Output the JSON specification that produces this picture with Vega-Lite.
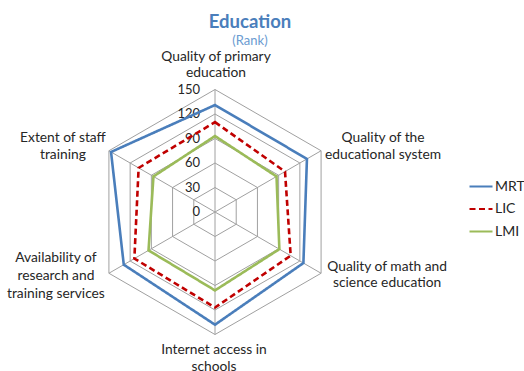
{
  "$schema": "https://vega.github.io/schema/vega-lite/v6.json",
  "width": 245,
  "height": 245,
  "autosize": {"type": "none"},
  "padding": {"left": 92.5, "top": 89.5, "right": 186.5, "bottom": 36.5},
  "background": "white",
  "config": {"view": {"stroke": null}, "font": "Lato"},
  "title": {
    "text": "Education",
    "subtitle": "(Rank)",
    "anchor": "middle",
    "frame": "group",
    "dx": 35,
    "offset": 2,
    "fontSize": 18.5,
    "fontWeight": "bold",
    "color": "#4a7ebb",
    "subtitleFontSize": 13,
    "subtitleColor": "#6b9bd1",
    "subtitlePadding": 3
  },
  "datasets": {
    "series": [
      {"series": "MRT", "k": 0, "axis": "Quality of primary education", "value": 131},
      {"series": "MRT", "k": 1, "axis": "Quality of the educational system", "value": 130},
      {"series": "MRT", "k": 2, "axis": "Quality of math and science education", "value": 125},
      {"series": "MRT", "k": 3, "axis": "Internet access in schools", "value": 138},
      {"series": "MRT", "k": 4, "axis": "Availability of research and training services", "value": 129},
      {"series": "MRT", "k": 5, "axis": "Extent of staff training", "value": 147},
      {"series": "LIC", "k": 0, "axis": "Quality of primary education", "value": 110},
      {"series": "LIC", "k": 1, "axis": "Quality of the educational system", "value": 99},
      {"series": "LIC", "k": 2, "axis": "Quality of math and science education", "value": 107},
      {"series": "LIC", "k": 3, "axis": "Internet access in schools", "value": 117},
      {"series": "LIC", "k": 4, "axis": "Availability of research and training services", "value": 114},
      {"series": "LIC", "k": 5, "axis": "Extent of staff training", "value": 108},
      {"series": "LMI", "k": 0, "axis": "Quality of primary education", "value": 93},
      {"series": "LMI", "k": 1, "axis": "Quality of the educational system", "value": 87},
      {"series": "LMI", "k": 2, "axis": "Quality of math and science education", "value": 91},
      {"series": "LMI", "k": 3, "axis": "Internet access in schools", "value": 96},
      {"series": "LMI", "k": 4, "axis": "Availability of research and training services", "value": 94},
      {"series": "LMI", "k": 5, "axis": "Extent of staff training", "value": 87}
    ],
    "rings": [
      {"level": 30, "k": 0}, {"level": 30, "k": 1}, {"level": 30, "k": 2}, {"level": 30, "k": 3}, {"level": 30, "k": 4}, {"level": 30, "k": 5},
      {"level": 60, "k": 0}, {"level": 60, "k": 1}, {"level": 60, "k": 2}, {"level": 60, "k": 3}, {"level": 60, "k": 4}, {"level": 60, "k": 5},
      {"level": 90, "k": 0}, {"level": 90, "k": 1}, {"level": 90, "k": 2}, {"level": 90, "k": 3}, {"level": 90, "k": 4}, {"level": 90, "k": 5},
      {"level": 120, "k": 0}, {"level": 120, "k": 1}, {"level": 120, "k": 2}, {"level": 120, "k": 3}, {"level": 120, "k": 4}, {"level": 120, "k": 5},
      {"level": 150, "k": 0}, {"level": 150, "k": 1}, {"level": 150, "k": 2}, {"level": 150, "k": 3}, {"level": 150, "k": 4}, {"level": 150, "k": 5}
    ],
    "spokes": [
      {"k": 0, "level": 0}, {"k": 0, "level": 150},
      {"k": 1, "level": 0}, {"k": 1, "level": 150},
      {"k": 2, "level": 0}, {"k": 2, "level": 150},
      {"k": 3, "level": 0}, {"k": 3, "level": 150},
      {"k": 4, "level": 0}, {"k": 4, "level": 150},
      {"k": 5, "level": 0}, {"k": 5, "level": 150}
    ],
    "ticks": [
      {"k": 0, "level": 0}, {"k": 0, "level": 30}, {"k": 0, "level": 60}, {"k": 0, "level": 90}, {"k": 0, "level": 120}, {"k": 0, "level": 150}
    ],
    "labels": [
      {"k": 0, "level": 150, "label": "Quality of primary|education"},
      {"k": 1, "level": 150, "label": "Quality of the|educational system"},
      {"k": 2, "level": 150, "label": "Quality of math and|science education"},
      {"k": 3, "level": 150, "label": "Internet access in|schools"},
      {"k": 4, "level": 150, "label": "Availability of|research and|training services"},
      {"k": 5, "level": 150, "label": "Extent of staff|training"}
    ]
  },
  "layer": [
    {
      "data": {"name": "rings"},
      "transform": [
        {"calculate": "datum.level * sin(datum.k * PI / 3)", "as": "px"},
        {"calculate": "datum.level * cos(datum.k * PI / 3)", "as": "py"}
      ],
      "mark": {"type": "line", "interpolate": "linear-closed", "color": "#a0a0a0", "strokeWidth": 1},
      "encoding": {
        "x": {"field": "px", "type": "quantitative", "scale": {"domain": [-150, 150], "nice": false, "zero": false}, "axis": null},
        "y": {"field": "py", "type": "quantitative", "scale": {"domain": [-150, 150], "nice": false, "zero": false}, "axis": null},
        "detail": {"field": "level", "type": "nominal"},
        "order": {"field": "k", "type": "quantitative"}
      }
    },
    {
      "data": {"name": "spokes"},
      "transform": [
        {"calculate": "datum.level * sin(datum.k * PI / 3)", "as": "px"},
        {"calculate": "datum.level * cos(datum.k * PI / 3)", "as": "py"}
      ],
      "mark": {"type": "line", "color": "#a0a0a0", "strokeWidth": 1},
      "encoding": {
        "x": {"field": "px", "type": "quantitative"},
        "y": {"field": "py", "type": "quantitative"},
        "detail": {"field": "k", "type": "nominal"},
        "order": {"field": "level", "type": "quantitative"}
      }
    },
    {
      "data": {"name": "ticks"},
      "transform": [
        {"calculate": "datum.level * sin(datum.k * PI / 3)", "as": "px"},
        {"calculate": "datum.level * cos(datum.k * PI / 3)", "as": "py"}
      ],
      "mark": {"type": "text", "align": "right", "baseline": "middle", "dx": -15, "fontSize": 13, "color": "#262626"},
      "encoding": {
        "x": {"field": "px", "type": "quantitative"},
        "y": {"field": "py", "type": "quantitative"},
        "text": {"field": "level", "type": "quantitative"}
      }
    },
    {
      "data": {"name": "series"},
      "transform": [
        {"calculate": "datum.value * sin(datum.k * PI / 3)", "as": "px"},
        {"calculate": "datum.value * cos(datum.k * PI / 3)", "as": "py"}
      ],
      "mark": {"type": "line", "interpolate": "linear-closed", "strokeWidth": 2.6},
      "encoding": {
        "x": {"field": "px", "type": "quantitative"},
        "y": {"field": "py", "type": "quantitative"},
        "order": {"field": "k", "type": "quantitative"},
        "color": {
          "field": "series", "type": "nominal",
          "scale": {"domain": ["MRT", "LIC", "LMI"], "range": ["#4a7ebb", "#c00000", "#9bbb59"]},
          "legend": {
            "title": null, "orient": "none", "legendX": 375.5, "legendY": 84,
            "symbolType": "stroke", "symbolSize": 529, "symbolStrokeWidth": 2.2,
            "labelFontSize": 14, "labelColor": "#262626", "labelOffset": 1, "rowPadding": 2.5
          }
        },
        "strokeDash": {
          "field": "series", "type": "nominal",
          "scale": {"domain": ["MRT", "LIC", "LMI"], "range": [[1, 0], [6, 3.5], [1, 0]]},
          "legend": {
            "title": null, "orient": "none", "legendX": 375.5, "legendY": 84,
            "symbolType": "stroke", "symbolSize": 529, "symbolStrokeWidth": 2.2,
            "labelFontSize": 14, "labelColor": "#262626", "labelOffset": 1, "rowPadding": 2.5
          }
        }
      }
    },
    {
      "data": {"name": "labels"},
      "transform": [
        {"filter": "datum.k == 0"},
        {"calculate": "datum.level * sin(datum.k * PI / 3)", "as": "px"},
        {"calculate": "datum.level * cos(datum.k * PI / 3)", "as": "py"}
      ],
      "mark": {"type": "text", "align": "center", "baseline": "middle", "lineBreak": "|", "lineHeight": 16.5, "fontSize": 13.8, "color": "#262626", "dx": 1, "dy": -32.75},
      "encoding": {"x": {"field": "px", "type": "quantitative"}, "y": {"field": "py", "type": "quantitative"}, "text": {"field": "label", "type": "nominal"}}
    },
    {
      "data": {"name": "labels"},
      "transform": [
        {"filter": "datum.k == 1"},
        {"calculate": "datum.level * sin(datum.k * PI / 3)", "as": "px"},
        {"calculate": "datum.level * cos(datum.k * PI / 3)", "as": "py"}
      ],
      "mark": {"type": "text", "align": "center", "baseline": "middle", "lineBreak": "|", "lineHeight": 16.5, "fontSize": 13.8, "color": "#262626", "dx": 62, "dy": -12.75},
      "encoding": {"x": {"field": "px", "type": "quantitative"}, "y": {"field": "py", "type": "quantitative"}, "text": {"field": "label", "type": "nominal"}}
    },
    {
      "data": {"name": "labels"},
      "transform": [
        {"filter": "datum.k == 2"},
        {"calculate": "datum.level * sin(datum.k * PI / 3)", "as": "px"},
        {"calculate": "datum.level * cos(datum.k * PI / 3)", "as": "py"}
      ],
      "mark": {"type": "text", "align": "center", "baseline": "middle", "lineBreak": "|", "lineHeight": 16.5, "fontSize": 13.8, "color": "#262626", "dx": 66, "dy": -6.5},
      "encoding": {"x": {"field": "px", "type": "quantitative"}, "y": {"field": "py", "type": "quantitative"}, "text": {"field": "label", "type": "nominal"}}
    },
    {
      "data": {"name": "labels"},
      "transform": [
        {"filter": "datum.k == 3"},
        {"calculate": "datum.level * sin(datum.k * PI / 3)", "as": "px"},
        {"calculate": "datum.level * cos(datum.k * PI / 3)", "as": "py"}
      ],
      "mark": {"type": "text", "align": "center", "baseline": "middle", "lineBreak": "|", "lineHeight": 16.5, "fontSize": 13.8, "color": "#262626", "dx": -1, "dy": 15.5},
      "encoding": {"x": {"field": "px", "type": "quantitative"}, "y": {"field": "py", "type": "quantitative"}, "text": {"field": "label", "type": "nominal"}}
    },
    {
      "data": {"name": "labels"},
      "transform": [
        {"filter": "datum.k == 4"},
        {"calculate": "datum.level * sin(datum.k * PI / 3)", "as": "px"},
        {"calculate": "datum.level * cos(datum.k * PI / 3)", "as": "py"}
      ],
      "mark": {"type": "text", "align": "center", "baseline": "middle", "lineBreak": "|", "lineHeight": 18, "fontSize": 13.8, "color": "#262626", "dx": -53, "dy": -15.25},
      "encoding": {"x": {"field": "px", "type": "quantitative"}, "y": {"field": "py", "type": "quantitative"}, "text": {"field": "label", "type": "nominal"}}
    },
    {
      "data": {"name": "labels"},
      "transform": [
        {"filter": "datum.k == 5"},
        {"calculate": "datum.level * sin(datum.k * PI / 3)", "as": "px"},
        {"calculate": "datum.level * cos(datum.k * PI / 3)", "as": "py"}
      ],
      "mark": {"type": "text", "align": "center", "baseline": "middle", "lineBreak": "|", "lineHeight": 16.5, "fontSize": 13.8, "color": "#262626", "dx": -46, "dy": -12.75},
      "encoding": {"x": {"field": "px", "type": "quantitative"}, "y": {"field": "py", "type": "quantitative"}, "text": {"field": "label", "type": "nominal"}}
    }
  ]
}
